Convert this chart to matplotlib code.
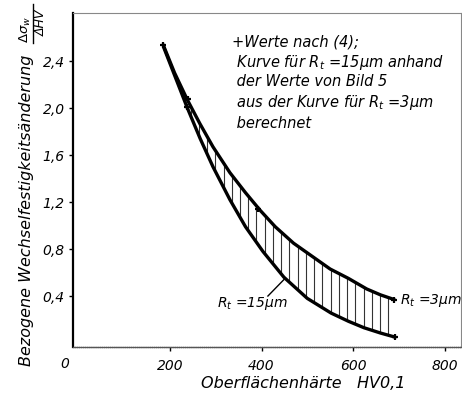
import numpy as np
import matplotlib
matplotlib.use("Agg")
import matplotlib.pyplot as plt
from matplotlib.lines import Line2D

# Curve for R_t = 3 µm (upper)
x_3 = [185, 210, 238, 265, 294, 331, 365, 397, 430, 470, 510, 550, 590, 630, 660, 690]
y_3 = [2.54, 2.30, 2.07, 1.87, 1.67, 1.45, 1.28, 1.13, 0.99, 0.85, 0.74, 0.63, 0.55, 0.46, 0.41, 0.37]
# Curve for R_t = 15 µm (lower)
x_15 = [186, 212, 237, 266, 294, 331, 365, 403, 449, 500, 552, 590, 624, 660, 692]
y_15 = [2.52, 2.26, 2.01, 1.74, 1.50, 1.22, 0.99, 0.78, 0.56, 0.38, 0.255, 0.185, 0.13, 0.085, 0.05]
# Data points "Werte nach (4)"
pts_x = [185, 239, 237, 392, 690, 692]
pts_y = [2.54, 2.08, 2.01, 1.14, 0.37, 0.05]

xticks = [200, 400, 600, 800]
yticks = [0.4, 0.8, 1.2, 1.6, 2.0, 2.4]
ytick_labels = ["0,4", "0,8", "1,2", "1,6", "2,0", "2,4"]

plt.rcParams['font.family'] = ['DejaVu Sans']
plt.rcParams['mathtext.fontset'] = 'dejavusans'

fig = plt.figure(figsize=(4.62, 4.0), dpi=100)
ax = fig.add_axes([73/462, 53/400, 388/462, 334/400])
ax.set_xlim(-12, 836)
ax.set_ylim(-0.034, 2.81)

# hatch lines between curves
hx = np.arange(245, 691, 18)
up = np.interp(hx, x_3, y_3)
lo = np.interp(hx, x_15, y_15)
ax.vlines(hx, lo, up, color='#333333', lw=0.8)

ax.plot(x_3, y_3, color='black', lw=2.4, solid_capstyle='round', solid_joinstyle='round')
ax.plot(x_15, y_15, color='black', lw=2.4, solid_capstyle='round', solid_joinstyle='round')
ax.plot(pts_x, pts_y, '+', color='black', ms=5, mew=1.6)

# spines
ax.spines['left'].set_linewidth(1.6)
ax.spines['bottom'].set_linewidth(1.0)
ax.spines['bottom'].set_color('#555555')
ax.spines['bottom'].set_linestyle((0, (1, 0.5)))
for s in ['top', 'right']:
    ax.spines[s].set_linewidth(0.8)
    ax.spines[s].set_color('#888888')
    ax.spines[s].set_linestyle((0, (1, 1)))

ax.set_xticks(xticks)
ax.set_xticklabels([str(v) for v in xticks], style='italic', fontsize=10)
ax.set_yticks(yticks)
ax.set_yticklabels(ytick_labels, style='italic', fontsize=10)
ax.tick_params(axis='both', direction='out', length=3, width=1, pad=3)
ax.tick_params(axis='x', pad=6)
ax.text(-30, -0.12, "0", style='italic', fontsize=10, ha='center', va='top')

fig.text(303/462, 1 - 383/400, "Oberflächenhärte   HV0,1", style='italic', fontsize=11.5,
         ha='center', va='center')
fig.text(27/462, 1 - 210/400, "Bezogene Wechselfestigkeitsänderung", style='italic',
         fontsize=11.5, rotation=90, ha='center', va='center')
# rotated fraction  Δσw / ΔHV
fig.text(25/462, 1 - 29/400, r"$\Delta\sigma_w$", fontsize=9.5, rotation=90,
         ha='center', va='center')
fig.text(41/462, 1 - 23/400, "ΔHV", style='italic', fontsize=9, rotation=90,
         ha='center', va='center')
fig.add_artist(Line2D([33/462, 33/462], [1 - 4/400, 1 - 43/400],
                      transform=fig.transFigure, color='black', lw=1))

# curve labels
ax.text(303, 0.34, r"$R_t$ =15µm", style='italic', fontsize=10, ha='left', va='center')
ax.plot([414, 449], [0.40, 0.54], color='black', lw=1)
ax.text(703, 0.366, r"$R_t$ =3µm", style='italic', fontsize=10, ha='left', va='center')

# note block
lines = ["+Werte nach (4);",
         r" Kurve für $R_t$ =15µm anhand",
         " der Werte von Bild 5",
         r" aus der Kurve für $R_t$ =3µm",
         " berechnet"]
ys = [42, 62, 82, 103, 123]
for t, yp in zip(lines, ys):
    fig.text(232/462, 1 - yp/400, t, style='italic', fontsize=10.5, ha='left', va='center')

fig.savefig("out.png", dpi=100)
